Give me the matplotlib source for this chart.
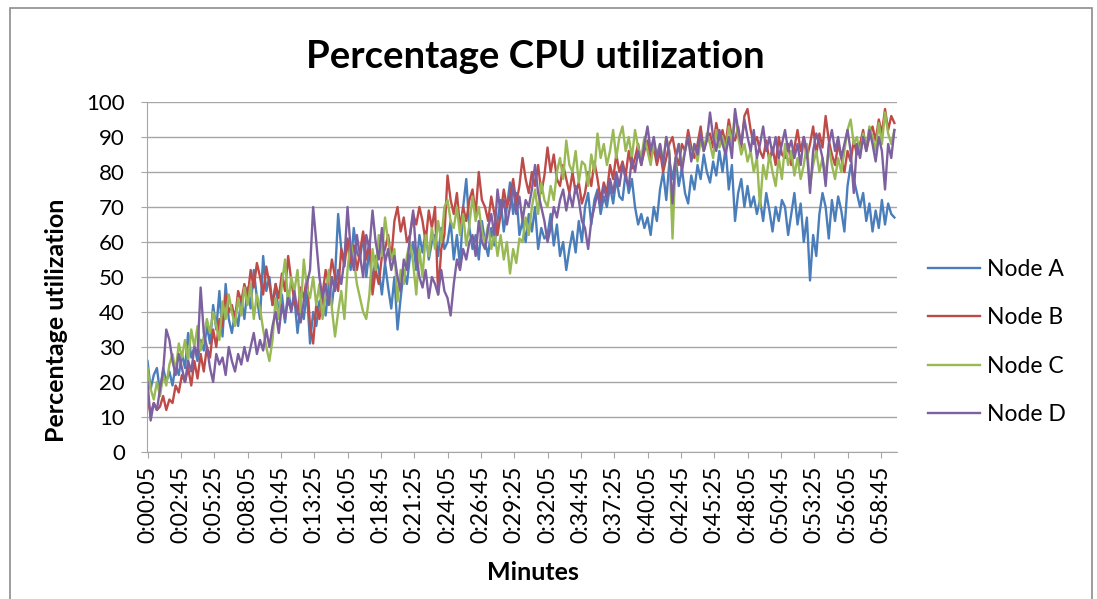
import numpy as np
import matplotlib
matplotlib.use("Agg")
import matplotlib.pyplot as plt
from matplotlib.patches import Rectangle

# ---- data (sampled every 15 s, 4 values per minute) ----
node_a = [
 26,18,22,24, 17,24,20,23, 19,25,22,28, 24,34,27,30, 26,32,29,36,
 31,42,35,46, 33,48,38,34, 40,36,44,38, 47,41,52,44, 38,56,46,50,
 42,48,39,45, 37,46,41,44, 34,42,38,46, 31,40,36,43, 44,39,48,42,
 50,68,58,55, 60,52,64,57, 55,62,50,58, 48,56,52,45, 54,47,41,50,
 35,44,52,48, 56,60,52,62, 57,63,55,60, 62,56,64,58, 60,66,55,62,
 53,70,78,64, 58,62,55,66, 60,56,64,59, 66,72,63,70, 77,68,74,62,
 66,60,68,63, 70,58,64,61, 62,68,59,65, 56,60,52,58, 63,57,66,60,
 70,74,65,72, 75,68,73,70, 76,71,78,73, 72,80,74,78, 70,65,68,64,
 67,62,70,66, 75,80,72,83, 78,84,76,81, 74,71,79,75, 82,78,85,80,
 77,83,79,86, 80,87,75,82, 66,74,78,70, 76,70,73,68, 72,66,74,69,
 63,70,66,72, 70,62,68,74, 65,71,60,67, 49,62,56,68, 74,70,61,72,
 66,73,69,63, 76,82,78,74, 70,74,66,71, 63,69,64,72, 65,71,68,67]
node_b = [
 15,11,14,12, 13,16,12,15, 14,19,17,22, 20,24,19,26, 21,28,23,30,
 27,35,30,38, 36,45,40,42, 38,46,43,48, 44,52,47,54, 50,45,53,48,
 42,48,44,51, 46,56,49,43, 40,47,44,50, 36,31,42,38, 45,52,48,55,
 50,46,58,53, 61,54,59,52, 57,63,55,60, 45,52,48,56, 58,62,55,66,
 70,63,67,60, 62,68,65,70, 66,60,69,64, 70,45,58,62, 79,72,68,74,
 64,70,66,72, 75,68,80,72, 70,66,73,68, 62,68,75,70, 73,78,71,76,
 84,78,74,80, 76,82,74,79, 87,80,85,78, 76,82,78,74, 80,74,77,71,
 74,80,76,83, 78,72,77,74, 82,78,85,80, 83,79,86,81, 84,88,82,86,
 89,84,87,82, 86,80,84,88, 90,85,82,88, 86,92,87,84, 88,93,86,90,
 91,87,94,89, 92,88,95,90, 89,93,87,96, 98,92,88,90, 86,84,89,83,
 87,82,90,85, 84,88,82,87, 92,86,90,84, 88,93,85,91, 87,96,89,85,
 82,88,84,80, 86,83,89,85, 88,92,86,90, 93,89,95,91, 98,92,96,94]
node_c = [
 24,18,15,20, 16,22,19,25, 28,23,31,27, 32,26,35,30, 36,29,33,38,
 34,40,36,32, 43,38,45,40, 36,44,39,47, 42,48,38,45, 41,35,30,26,
 32,44,38,48, 55,42,50,46, 52,40,55,47, 44,50,42,48, 38,45,52,41,
 33,40,46,38, 52,60,55,48, 44,40,38,45, 58,52,62,56, 67,60,55,58,
 43,52,48,56, 60,54,45,58, 50,62,56,64, 58,66,60,70, 72,66,64,70,
 62,68,59,65, 73,66,70,63, 60,65,58,63, 56,62,55,60, 51,58,54,61,
 60,67,62,70, 75,68,77,72, 70,76,72,80, 84,78,89,82, 80,86,77,83,
 82,76,85,80, 91,84,88,82, 86,92,84,90, 93,86,90,84, 92,87,84,90,
 86,82,88,85, 88,83,90,86, 61,84,88,82, 86,90,84,88, 83,89,86,91,
 88,84,92,87, 90,86,93,88, 97,90,85,88, 83,86,80,84, 70,82,78,85,
 80,76,84,78, 88,82,86,79, 84,78,82,88, 76,82,86,80, 84,79,87,82,
 78,84,80,86, 92,95,88,90, 85,91,87,93, 90,86,94,88, 97,91,88,92]
node_d = [
 20,9,14,12, 18,23,35,32, 26,22,28,24, 20,26,23,30, 28,47,34,30,
 24,20,28,25, 27,22,30,26, 23,28,25,30, 26,30,34,28, 32,29,35,30,
 36,40,34,42, 38,44,40,46, 40,37,43,48, 52,70,60,50, 44,48,42,50,
 46,52,48,55, 70,58,52,62, 56,50,62,58, 69,60,55,64, 54,58,52,56,
 50,46,55,52, 62,69,56,50, 47,52,44,50, 48,45,52,46, 44,39,48,55,
 52,58,55,60, 62,56,66,60, 58,64,68,62, 75,68,72,65, 70,76,68,73,
 66,72,70,75, 82,74,70,66, 60,64,70,67, 72,75,69,74, 70,76,72,66,
 64,58,66,70, 74,70,76,72, 78,74,80,76, 82,78,76,84, 80,86,82,88,
 93,86,90,84, 88,82,90,85, 71,84,88,80, 86,90,83,88, 85,91,86,89,
 97,90,86,92, 88,85,90,84, 98,92,88,95, 90,86,92,84, 88,93,86,90,
 85,90,84,88, 92,86,89,84, 88,82,90,86, 74,86,91,88, 84,76,88,92,
 86,90,84,88, 92,86,74,88, 84,90,86,92, 88,83,90,86, 75,88,84,92]
series_names = ["Node A", "Node B", "Node C", "Node D"]
tick_labels = ["0:00:05","0:02:45","0:05:25","0:08:05","0:10:45","0:13:25",
               "0:16:05","0:18:45","0:21:25","0:24:05","0:26:45","0:29:25",
               "0:32:05","0:34:45","0:37:25","0:40:05","0:42:45","0:45:25",
               "0:48:05","0:50:45","0:53:25","0:56:05","0:58:45"]
n_categories = 720       # 5-second samples over one hour
sample_step = 3          # data above is every 3rd sample (15 s)
tick_step = 32           # labels every 32 categories (2 min 40 s)

colors = ["#4a7ebb", "#be4b48", "#98b954", "#7d60a0"]
font = "Lato"

fig = plt.figure(figsize=(10.97, 5.99), dpi=100)
ax = fig.add_axes([147/1097, 1-452/599, (897-147)/1097, (452-102)/599])

x = np.arange(len(node_a)) * sample_step
for vals, name, c in zip([node_a, node_b, node_c, node_d], series_names, colors):
    ax.plot(x, vals, color=c, lw=1.7, label=name, solid_joinstyle="round")

ax.set_xlim(-0.5, n_categories - 0.5)
ax.set_ylim(0, 100)
ax.set_yticks(np.arange(0, 101, 10))
ax.set_xticks(np.arange(len(tick_labels)) * tick_step)
ax.set_xticklabels(tick_labels, rotation=90, fontsize=16.5, family=font)
for t in ax.get_yticklabels():
    t.set_fontsize(16)
    t.set_family(font)
ax.yaxis.grid(True, color="#a6a6a6", lw=1)
ax.set_axisbelow(True)
for s in ["top", "right"]:
    ax.spines[s].set_visible(False)
for s in ["left", "bottom"]:
    ax.spines[s].set_color("#a6a6a6")
ax.tick_params(axis="both", colors="#a6a6a6", labelcolor="black", length=4)
ax.tick_params(axis="y", pad=12)
ax.tick_params(axis="x", pad=6)

ax.set_ylabel("Percentage utilization", fontsize=18, fontweight="bold", family=font)
ax.yaxis.set_label_coords(-0.105, 0.377)
ax.set_xlabel("Minutes", fontsize=18, fontweight="bold", family=font)
ax.xaxis.set_label_coords(0.515, -0.31)
fig.text(535/1097, 1-57/599, "Percentage CPU utilization", ha="center", va="center",
         fontsize=27.5, fontweight="bold", family=font)

fig.legend(loc="center left", bbox_to_anchor=(928/1097, 1-342/599), frameon=False,
           borderpad=0, borderaxespad=0,
           prop={"family": font, "size": 16.5}, labelspacing=1.2, handlelength=2.27,
           handletextpad=0.3)

fig.patches.append(Rectangle((10/1097, -0.05), (1092-10)/1097, 1.05 - 8/599,
                             transform=fig.transFigure, fill=False, ec="#8c8c8c", lw=1.2))
fig.savefig("out.png", dpi=100)
